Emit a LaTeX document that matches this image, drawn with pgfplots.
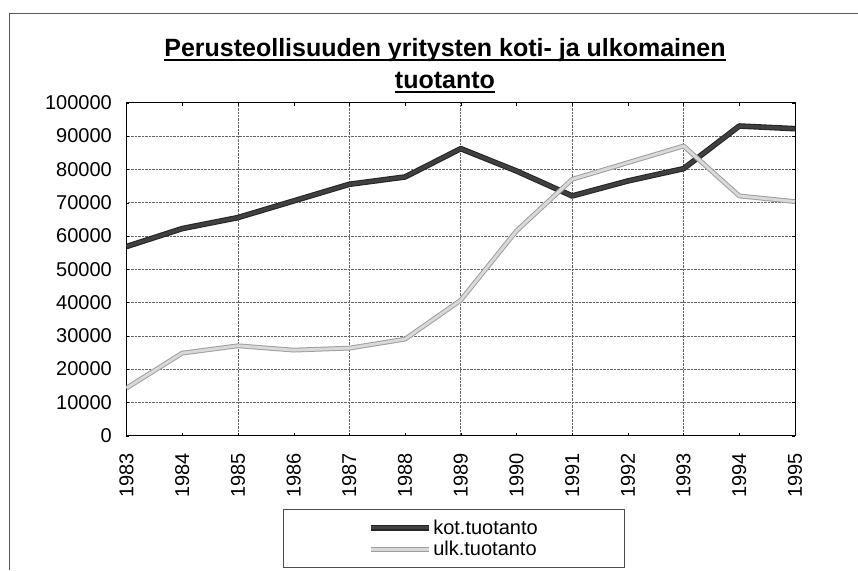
\documentclass[border=0pt]{standalone}
\usepackage{pgfplots}
\pgfplotsset{compat=1.18}
\usepackage{fontspec}
\setmainfont{Liberation Sans}

% underline at a fixed depth, crossing descenders like the original
\newcommand\titleline[1]{\setbox0\hbox{#1}\rlap{\rule[-4pt]{\wd0}{1.6pt}}\box0}

\begin{document}
\begin{tikzpicture}[x=1pt,y=1pt]
\path[use as bounding box] (-126.5,-134.3) rectangle (731.5,435.7);
\draw[black!65, line width=0.9pt] (-117.5,-134.3) -- (-117.5,422.7) -- (731.5,422.7);
\begin{axis}[
    at={(0pt,0pt)}, anchor=south west,
    scale only axis,
    width=668.5pt, height=333pt,
    xmin=1983, xmax=1995,
    ymin=0, ymax=100000,
    xtick={1983,1984,1985,1986,1987,1988,1989,1990,1991,1992,1993,1994,1995},
    xticklabels={1983,1984,1985,1986,1987,1988,1989,1990,1991,1992,1993,1994,1995},
    ytick={0,10000,20000,30000,40000,50000,60000,70000,80000,90000,100000},
    yticklabels={0,10000,20000,30000,40000,50000,60000,70000,80000,90000,100000},
    minor xtick={1985,1987,1989,1991,1993},
    xminorgrids=true, ymajorgrids=true,
    grid style={densely dotted, black!60, line width=0.6pt},
    minor tick length=0pt, major tick length=3pt,
    tick align=inside,
    tick style={black},
    axis line style={black, line width=1pt},
    scaled y ticks=false,
    tick label style={font=\fontsize{20}{24}\selectfont, inner sep=0pt},
    yticklabel style={anchor=east},
    yticklabel shift=14.5pt,
    xticklabel style={rotate=90, anchor=east},
    xticklabel shift=17pt,
    title={\titleline{Perusteollisuuden yritysten koti- ja ulkomainen}\\\titleline{tuotanto}},
    title style={at={(0.4764,1)}, anchor=south, align=center,
        inner sep=0pt, yshift=3.7pt, font=\fontsize{25}{32}\selectfont\bfseries},
    legend style={at={(0.4895,-0.22)}, anchor=north,
        draw=black!70, line width=0.6pt, inner xsep=85pt, inner ysep=9pt,
        font=\fontsize{20}{20}\selectfont, row sep=2.4pt,
        nodes={inner sep=1.5pt}},
    legend cell align=left,
    legend image code/.code={\draw[#1] (0pt,0pt) -- (58pt,0pt);},
]
\addplot[line width=1.1pt, draw=black!85, double=gray!50!black, double distance=3.4pt, line join=round]
    coordinates {
    (1983,56800)(1984,62200)(1985,65500)(1986,70500)(1987,75500)(1988,77700)(1989,86200)
    (1990,79500)(1991,72000)(1992,76500)(1993,80200)(1994,93000)(1995,92200)
    };
\addlegendentry{kot.tuotanto}
\addplot[line width=1pt, draw=gray!75, double=gray!30, double distance=2.8pt, line join=round]
    coordinates {
    (1983,14300)(1984,24800)(1985,27000)(1986,25700)(1987,26300)(1988,29000)(1989,40700)
    (1990,61500)(1991,77000)(1992,82000)(1993,87000)(1994,72000)(1995,70300)
    };
\addlegendentry{ulk.tuotanto}
\end{axis}
\end{tikzpicture}
\end{document}
